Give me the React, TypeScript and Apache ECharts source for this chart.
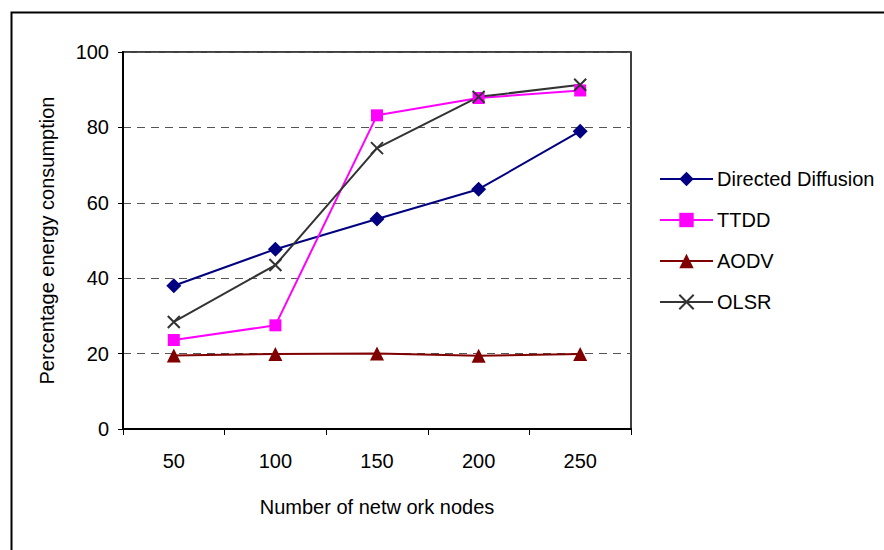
import React, { useEffect, useRef } from "react";
import * as echarts from "echarts";

const nodeCounts = ["50", "100", "150", "200", "250"];
const directedDiffusion = [38, 47.7, 55.7, 63.6, 79];
const ttdd = [23.6, 27.5, 83.2, 87.8, 89.8];
const aodv = [19.5, 19.9, 20, 19.4, 19.9];
const olsr = [28.4, 43.5, 74.5, 88.1, 91.3];
const yTicks = { min: 0, max: 100, step: 20 };

const FONT = "'Liberation Sans', Arial, sans-serif";
const CROSS = "path://M0,0L10,10M10,0L0,10";

export default function App() {
  const ref = useRef<HTMLDivElement>(null);

  useEffect(() => {
    if (!ref.current) return;
    const chart = echarts.init(ref.current, undefined, { renderer: "svg" });

    const mk = (
      name: string,
      data: number[],
      color: string,
      symbol: string,
      symbolSize: number,
      stroked = false
    ) => ({
      name,
      type: "line",
      data,
      symbol,
      symbolSize,
      showSymbol: true,
      lineStyle: { color, width: 2 },
      itemStyle: stroked
        ? { color: "rgba(0,0,0,0)", borderColor: color, borderWidth: 2 }
        : { color, borderWidth: 0 },
      emphasis: { disabled: true },
    });

    chart.setOption({
      animation: false,
      backgroundColor: "#fff",
      textStyle: { fontFamily: FONT, color: "#000" },
      graphic: [
        {
          type: "rect",
          left: 9,
          top: 10,
          shape: { width: 900, height: 600 },
          style: { fill: "none", stroke: "#000", lineWidth: 2 },
          silent: true,
        },
      ],
      grid: {
        left: 123,
        right: 253,
        top: 52,
        bottom: 121,
        show: true,
        borderColor: "#000",
        borderWidth: 1.5,
      },
      legend: {
        orient: "vertical",
        left: 659,
        top: 169,
        padding: 0,
        itemWidth: 53,
        itemHeight: 18,
        itemGap: 21,
        textStyle: { fontFamily: FONT, fontSize: 20, color: "#000", padding: [0, 0, 0, -1] },
        data: ["Directed Diffusion", "TTDD", "AODV", "OLSR"],
      },
      xAxis: {
        type: "category",
        data: nodeCounts,
        boundaryGap: true,
        name: "Number of netw ork nodes",
        nameLocation: "middle",
        nameGap: 68,
        nameTextStyle: { fontFamily: FONT, fontSize: 20, color: "#000" },
        axisLine: { lineStyle: { color: "#000", width: 2 } },
        axisTick: { show: true, length: 6, lineStyle: { color: "#000", width: 1 } },
        axisLabel: { fontFamily: FONT, fontSize: 20, color: "#000", margin: 22 },
        splitLine: { show: false },
      },
      yAxis: {
        type: "value",
        min: yTicks.min,
        max: yTicks.max,
        interval: yTicks.step,
        name: "Percentage energy consumption",
        nameLocation: "middle",
        nameGap: 66,
        nameTextStyle: { fontFamily: FONT, fontSize: 20, color: "#000" },
        axisLine: { show: true, lineStyle: { color: "#000", width: 2 } },
        axisTick: { show: true, length: 5, lineStyle: { color: "#000", width: 1 } },
        axisLabel: { fontFamily: FONT, fontSize: 20, color: "#000", margin: 14 },
        splitLine: {
          show: true,
          lineStyle: { color: "#555", width: 1, type: [8, 6] },
        },
      },
      series: [
        mk("Directed Diffusion", directedDiffusion, "#000080", "diamond", 15),
        mk("TTDD", ttdd, "#FF00FF", "rect", 12),
        mk("AODV", aodv, "#800000", "triangle", 14),
        mk("OLSR", olsr, "#333333", CROSS, 12, true),
      ],
    });

    return () => chart.dispose();
  }, []);

  return (
    <div
      ref={ref}
      style={{ position: "fixed", left: 0, top: 0, width: 884, height: 550 }}
    />
  );
}
